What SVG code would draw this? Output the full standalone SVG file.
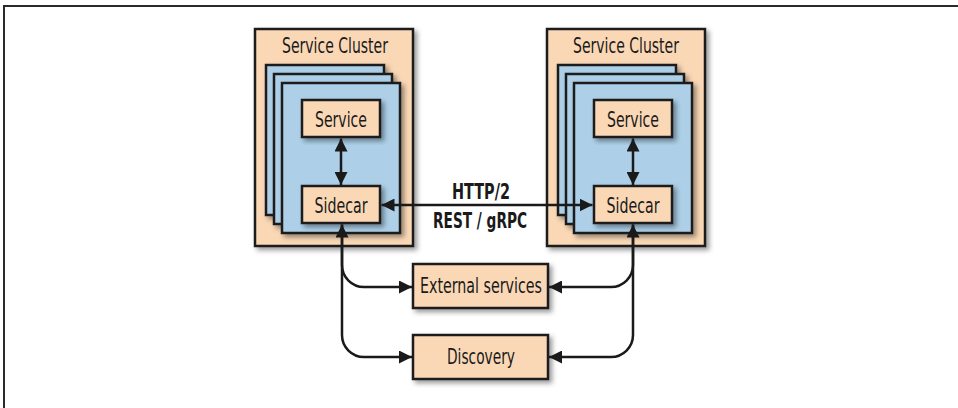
<svg xmlns="http://www.w3.org/2000/svg" width="958" height="408" viewBox="0 0 958 408">
<defs>
<style>
.peach{fill:#FAD8B6;stroke:#1a1a1a;stroke-width:2.5}
.blue{fill:#ADD0E8;stroke:#1a1a1a;stroke-width:2.5}
.sh{filter:url(#ds)}
.t{font-family:"Liberation Sans Narrow","DejaVu Sans Condensed","Liberation Sans",sans-serif;font-size:20.5px;fill:#1a1a1a;text-anchor:middle}
.b{font-weight:bold}
.c{fill:none;stroke:#1a1a1a;stroke-width:2.5}
</style>
<filter id="ds" x="-10%" y="-10%" width="130%" height="130%">
<feDropShadow dx="3" dy="3" stdDeviation="2.5" flood-color="#000" flood-opacity="0.4"/>
</filter>
<marker id="ah" viewBox="0 0 13 13" markerUnits="userSpaceOnUse" markerWidth="13" markerHeight="13" refX="13" refY="6.5" orient="auto-start-reverse">
<path d="M0,0 L13,6.5 L0,13 z" fill="#1a1a1a"/>
</marker>
</defs>
<rect width="958" height="408" fill="#fff"/>
<path d="M4,408 V6 H958" fill="none" stroke="#2a2a2a" stroke-width="2"/>

<g id="cluster-left">
<rect class="peach sh" x="255" y="29" width="158" height="217"/>
<text class="t" x="335" y="53" textLength="106" lengthAdjust="spacingAndGlyphs">Service Cluster</text>
<rect class="blue sh" x="266" y="65" width="118" height="150"/>
<rect class="blue sh" x="274" y="74" width="118" height="150"/>
<rect class="blue sh" x="282" y="83" width="118" height="150"/>
</g>
<g id="service-left">
<rect class="peach sh" x="302" y="100" width="78" height="37"/>
<text class="t" x="341" y="127" textLength="52" lengthAdjust="spacingAndGlyphs">Service</text>
</g>
<g id="sidecar-left">
<rect class="peach sh" x="302" y="186" width="78" height="37"/>
<text class="t" x="341" y="213" textLength="53" lengthAdjust="spacingAndGlyphs">Sidecar</text>
</g>

<g id="cluster-right">
<rect class="peach sh" x="547" y="29" width="158" height="217"/>
<text class="t" x="626" y="53" textLength="106" lengthAdjust="spacingAndGlyphs">Service Cluster</text>
<rect class="blue sh" x="558" y="65" width="118" height="150"/>
<rect class="blue sh" x="566" y="74" width="118" height="150"/>
<rect class="blue sh" x="574" y="83" width="118" height="150"/>
</g>
<g id="service-right">
<rect class="peach sh" x="594" y="100" width="78" height="37"/>
<text class="t" x="633" y="127" textLength="52" lengthAdjust="spacingAndGlyphs">Service</text>
</g>
<g id="sidecar-right">
<rect class="peach sh" x="594" y="186" width="78" height="37"/>
<text class="t" x="633" y="213" textLength="53" lengthAdjust="spacingAndGlyphs">Sidecar</text>
</g>

<g id="external">
<rect class="peach sh" x="413" y="264" width="135" height="44"/>
<text class="t" x="481" y="293" textLength="122" lengthAdjust="spacingAndGlyphs">External services</text>
</g>
<g id="discovery">
<rect class="peach sh" x="413" y="335" width="135" height="44"/>
<text class="t" x="481" y="364" textLength="68" lengthAdjust="spacingAndGlyphs">Discovery</text>
</g>

<g id="connectors">
<path class="c" d="M341,138.5 V185" marker-start="url(#ah)" marker-end="url(#ah)"/>
<path class="c" d="M633,138.5 V185" marker-start="url(#ah)" marker-end="url(#ah)"/>
<path class="c" d="M381.5,205 H592.5" marker-start="url(#ah)" marker-end="url(#ah)"/>
<path class="c" d="M342,224.5 V265 A22,22 0 0 0 364,287 H412" marker-start="url(#ah)" marker-end="url(#ah)"/>
<path class="c" d="M342,224.5 V335 A22,22 0 0 0 364,357 H412" marker-end="url(#ah)"/>
<path class="c" d="M633,224.5 V265 A22,22 0 0 1 611,287 H549" marker-start="url(#ah)" marker-end="url(#ah)"/>
<path class="c" d="M633,224.5 V335 A22,22 0 0 1 611,357 H549" marker-end="url(#ah)"/>
<text class="t b" x="481" y="199" textLength="58" lengthAdjust="spacingAndGlyphs">HTTP/2</text>
<text class="t b" x="480" y="228" textLength="94" lengthAdjust="spacingAndGlyphs">REST / gRPC</text>
</g>
</svg>
